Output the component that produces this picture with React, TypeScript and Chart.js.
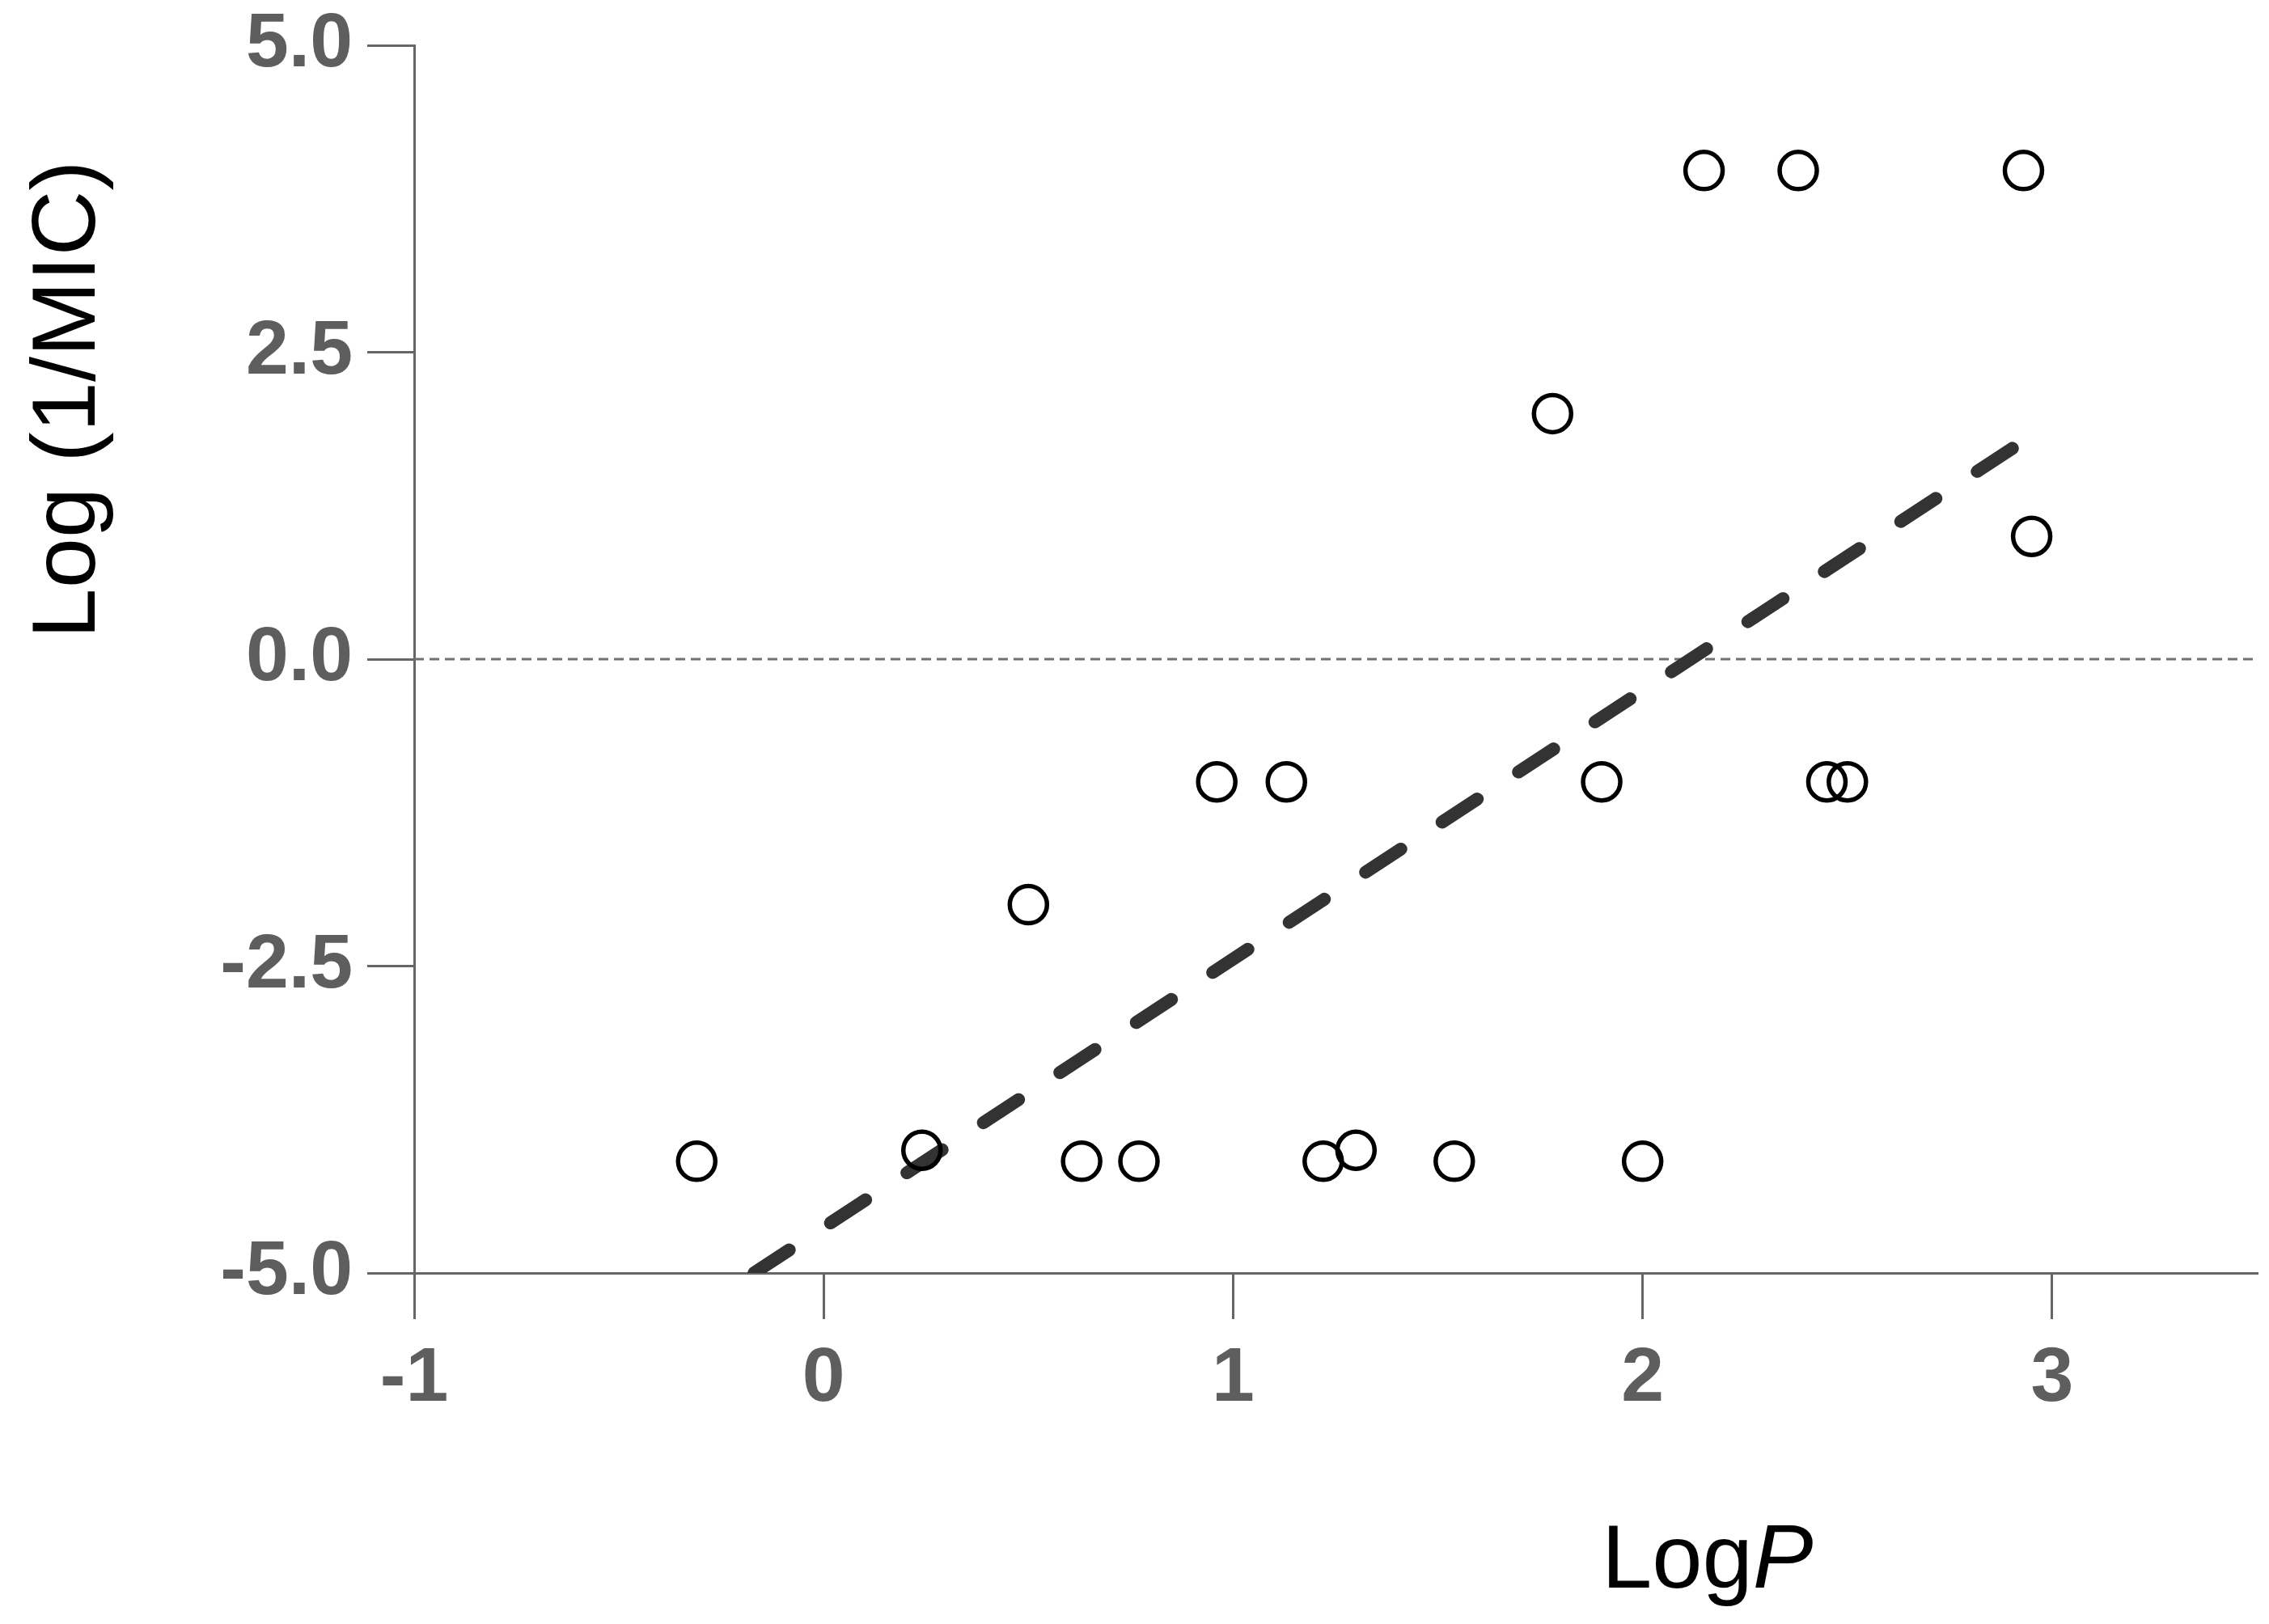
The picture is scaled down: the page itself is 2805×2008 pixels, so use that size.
import React, { useEffect, useRef } from "react";
import { Chart, registerables } from "chart.js";

Chart.register(...registerables);

// Data
const logP = [-0.31, 0.24, 0.50, 0.63, 0.77, 0.96, 1.13, 1.22, 1.30, 1.54, 1.78, 1.90, 2.00, 2.15, 2.38, 2.45, 2.50, 2.93, 2.95];
const logInvMIC = [-4.09, -4.0, -2.0, -4.09, -4.09, -1.0, -1.0, -4.09, -4.0, -4.09, 2.0, -1.0, -4.09, 3.98, 3.98, -1.0, -1.0, 3.98, 1.0];

// Regression line end points
const fitX = [-0.17, 2.95];
const fitY = [-5.0, 1.82];

// Zero reference line
const zeroX = [-1, 3.5];
const zeroY = [0, 0];

const xTicks = [-1, 0, 1, 2, 3];
const yTicks = [-5, -2.5, 0, 2.5, 5];

const yTitle = "Log (1/MIC)";
const xTitleMain = "Log";
const xTitleItalic = "P";

const FONT = "'Liberation Sans', Arial, sans-serif";

const titlePlugin = {
  id: "axisTitles",
  afterDraw(chart: any) {
    const ctx = chart.ctx;
    ctx.save();
    ctx.fillStyle = "#000000";
    ctx.font = `112px ${FONT}`;
    ctx.textAlign = "center";
    ctx.textBaseline = "alphabetic";
    ctx.translate(117, 494);
    ctx.rotate(-Math.PI / 2);
    ctx.fillText(yTitle, 0, 0);
    ctx.restore();

    ctx.save();
    ctx.fillStyle = "#000000";
    ctx.textAlign = "left";
    ctx.textBaseline = "alphabetic";
    ctx.font = `112px ${FONT}`;
    const x0 = 1980;
    const yb = 1963;
    ctx.fillText(xTitleMain, x0, yb);
    const w = ctx.measureText(xTitleMain).width;
    ctx.font = `italic 112px ${FONT}`;
    ctx.fillText(xTitleItalic, x0 + w, yb);
    ctx.restore();
  },
};

export default function App() {
  const ref = useRef<HTMLCanvasElement | null>(null);

  useEffect(() => {
    document.body.style.margin = "0";
    document.documentElement.style.overflow = "hidden";
    const canvas = ref.current;
    if (!canvas) return;
    const axisColor = "#666666";
    const tickColor = "#5e5e5e";

    const chart = new Chart(canvas, {
      type: "scatter",
      data: {
        datasets: [
          {
            label: "points",
            data: logP.map((x, i) => ({ x, y: logInvMIC[i] })),
            pointStyle: "circle",
            pointRadius: 23,
            pointHoverRadius: 23,
            pointBorderWidth: 5.5,
            borderColor: "#000000",
            backgroundColor: "rgba(0,0,0,0)",
            showLine: false,
          } as any,
          {
            label: "fit",
            data: fitX.map((x, i) => ({ x, y: fitY[i] })),
            showLine: true,
            borderColor: "#333333",
            borderWidth: 16,
            borderDash: [52, 61],
            borderCapStyle: "round",
            pointRadius: 0,
            pointHoverRadius: 0,
          } as any,
          {
            label: "zero",
            data: zeroX.map((x, i) => ({ x, y: zeroY[i] })),
            showLine: true,
            borderColor: "#707070",
            borderWidth: 3,
            borderDash: [12, 7],
            pointRadius: 0,
            pointHoverRadius: 0,
          } as any,
        ],
      },
      options: {
        responsive: false,
        animation: false,
        devicePixelRatio: 1,
        layout: { autoPadding: false, padding: { top: 56, right: 15, left: 0, bottom: 0 } },
        plugins: {
          legend: { display: false },
          tooltip: { enabled: false },
        },
        scales: {
          x: {
            type: "linear",
            min: -1,
            max: 3.5,
            afterBuildTicks: (scale: any) => {
              scale.ticks = xTicks.map((v) => ({ value: v }));
            },
            afterFit: (scale: any) => {
              scale.height = 434;
            },
            border: { display: true, color: axisColor, width: 3 },
            grid: {
              drawOnChartArea: false,
              drawTicks: true,
              tickLength: 57,
              color: axisColor,
              lineWidth: 3,
            },
            ticks: {
              padding: 18,
              color: tickColor,
              font: { family: FONT, size: 95, weight: "bold" },
              callback: (v: any) => String(v),
              maxRotation: 0,
              autoSkip: false,
            },
            title: { display: false },
          },
          y: {
            type: "linear",
            min: -5,
            max: 5,
            afterBuildTicks: (scale: any) => {
              scale.ticks = yTicks.map((v) => ({ value: v }));
            },
            afterFit: (scale: any) => {
              scale.width = 512;
            },
            border: { display: true, color: axisColor, width: 3 },
            grid: {
              drawOnChartArea: false,
              drawTicks: true,
              tickLength: 58,
              color: axisColor,
              lineWidth: 3,
            },
            ticks: {
              padding: 18,
              color: tickColor,
              font: { family: FONT, size: 95, weight: "bold", lineHeight: 0.4 },
              callback: (v: any) => Number(v).toFixed(1),
              autoSkip: false,
            },
            title: { display: false },
          },
        },
      } as any,
      plugins: [titlePlugin],
    });

    return () => chart.destroy();
  }, []);

  return (
    <div style={{ position: "absolute", left: 0, top: 0, width: 2805, height: 2008, background: "#ffffff" }}>
      <canvas ref={ref} width={2805} height={2008} style={{ width: 2805, height: 2008, display: "block" }} />
    </div>
  );
}
